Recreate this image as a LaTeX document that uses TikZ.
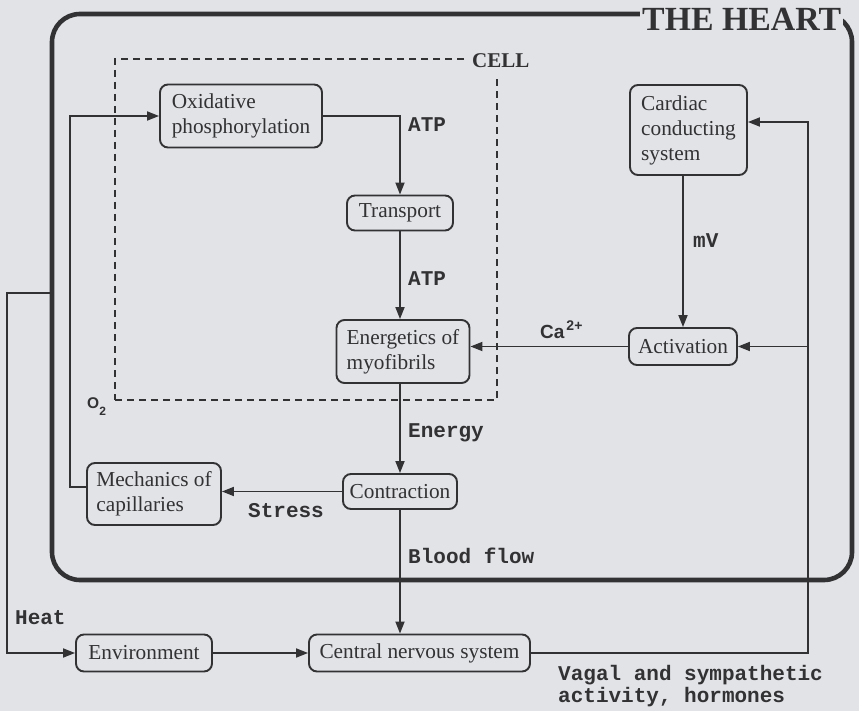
\documentclass[tikz,border=0pt]{standalone}
\usepackage{fontspec}
\setmainfont{Liberation Serif}
\setmonofont{Liberation Mono}
\setsansfont{Liberation Sans}
\usetikzlibrary{arrows.meta}
\definecolor{bg}{RGB}{226,227,231}
\definecolor{ink}{RGB}{50,50,52}
\begin{document}
\begin{tikzpicture}[x=1pt,y=-1pt,
  box/.style={draw=ink, line width=1.9pt, rounded corners=8pt, align=left, inner sep=0pt, text=ink, font=\fontsize{21.3}{25}\selectfont},
  conn/.style={draw=ink, line width=1.8pt},
  arr/.style={conn, -{Triangle[length=12pt,width=9pt]}},
  lab/.style={anchor=base west, inner sep=0pt, text=ink, font=\ttfamily\bfseries\fontsize{21}{22}\selectfont},
]
\fill[bg] (0,0) rectangle (859,711);
\useasboundingbox (0,0) rectangle (859,711);

% containers
\node[draw=ink, line width=4.6pt, rounded corners=28pt, minimum width=800pt, minimum height=566pt, inner sep=0pt] (heart) at (452,297) {};
\node[fill=bg, anchor=base west, inner xsep=2pt, inner ysep=4pt, text=ink, font=\bfseries\fontsize{33.8}{36}\selectfont] (title) at (640,31) {THE HEART};
\node[draw=ink, line width=1.8pt, dash pattern=on 7pt off 5pt, minimum width=382pt, minimum height=341pt, inner sep=0pt] (cell) at (306,229.5) {};
\node[fill=bg, anchor=base west, inner xsep=7pt, inner ysep=10pt, text=ink, font=\bfseries\fontsize{21}{22}\selectfont] (celllab) at (465,68) {CELL};

% boxes
\node[box, minimum width=162pt, minimum height=63pt] (oxi) at (241,116) {Oxidative\\phosphorylation};
\node[box, minimum width=106pt, minimum height=35pt] (trans) at (400,213) {Transport};
\node[box, minimum width=117pt, minimum height=90pt] (card) at (688.5,130) {Cardiac\\conducting\\system};
\node[box, minimum width=133pt, minimum height=63pt] (ener) at (403,351.5) {Energetics of\\myofibrils};
\node[box, minimum width=108pt, minimum height=37pt] (act) at (683,346.5) {Activation};
\node[box, minimum width=134pt, minimum height=62pt] (mech) at (154,494) {Mechanics of\\capillaries};
\node[box, minimum width=114pt, minimum height=35pt] (contr) at (400,491.5) {Contraction};
\node[box, minimum width=136pt, minimum height=37pt] (env) at (144,653) {Environment};
\node[box, minimum width=221pt, minimum height=37pt] (cns) at (419.5,653) {Central nervous system};

\coordinate (rx) at (808,0);
\coordinate (lx) at (70,0);
\coordinate (hx) at (7,293);

% connectors
\draw[arr] (oxi.east) -| (trans.north);
\draw[arr] (trans.south) -- (trans.south |- ener.north);
\draw[arr] (ener.south -| contr.north) -- (contr.north);
\draw[arr] (contr.south) -- (contr.south |- cns.north);
\draw[arr] (act.north |- card.south) -- (act.north);
\draw[arr] (act.west) -- (act.west -| ener.east);
\draw[arr] (cns.east) -| ([yshift=8pt]card.east -| rx) -- ([yshift=8pt]card.east);
\draw[arr] (act.east -| rx) -- (act.east);
\draw[arr] (contr.west) -- (contr.west -| mech.east);
\draw[arr] ([yshift=7pt]mech.west) -- ([yshift=7pt]mech.west -| lx) |- (oxi.west);
\draw[arr] (heart.west |- hx) -- (hx) |- (env.west);
\draw[arr] (env.east) -- (env.east -| cns.west);

% labels
\node[lab] (atp1) at (408,132) {ATP};
\node[lab] (atp2) at (408,285) {ATP};
\node[lab] (energy) at (408,437) {Energy};
\node[lab] (mv) at (693,248) {mV};
\node[anchor=base west, inner sep=0pt, text=ink, font=\sffamily\bfseries\fontsize{19}{20}\selectfont] (ca) at (540,338) {Ca\hspace{2pt}\raisebox{8pt}{\fontsize{14}{14}\selectfont 2+}};
\node[anchor=base west, inner sep=0pt, text=ink, font=\sffamily\bfseries\fontsize{15.5}{16}\selectfont] (o2) at (87,408) {O\raisebox{-7pt}{\fontsize{12}{12}\selectfont 2}};
\node[lab] (stress) at (248,517) {Stress};
\node[lab] (blood) at (408,563) {Blood flow};
\node[lab] (heat) at (15,624) {Heat};
\node[lab] (vagal1) at (558,680) {Vagal and sympathetic};
\node[lab] (vagal2) at (558,702) {activity, hormones};
\end{tikzpicture}
\end{document}
